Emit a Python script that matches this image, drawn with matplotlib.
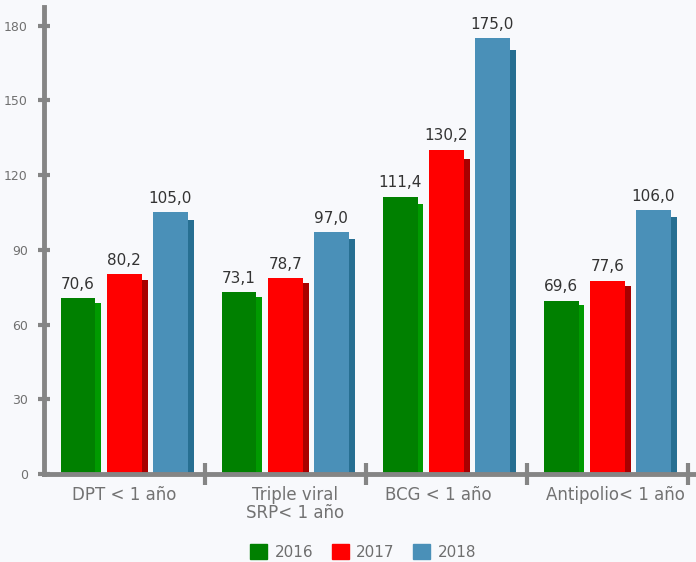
import matplotlib.pyplot as plt
import numpy as np
from matplotlib.patches import Patch

BG = "#f8f9fc"
AXIS = "#858585"
plt.rcParams["font.family"] = "DejaVu Sans"

categories = ["DPT < 1 año", "Triple viral\nSRP< 1 año", "BCG < 1 año", "Antipolio< 1 año"]
years = ["2016", "2017", "2018"]
v2016 = [70.6, 73.1, 111.4, 69.6]
v2017 = [80.2, 78.7, 130.2, 77.6]
v2018 = [105.0, 97.0, 175.0, 106.0]
yticks = [0, 30, 60, 90, 120, 150, 180]

front = ["#008000", "#ff0000", "#4a90b8"]
side = ["#009a00", "#a80000", "#276f92"]

fig = plt.figure(figsize=(6.96, 5.62), dpi=100, facecolor=BG)
ax = fig.add_axes([0.063, 0.1566, 0.937, 0.831], facecolor=BG)

x = np.arange(len(categories))
w = 0.217
sw = 0.037
offsets = [-0.288, 0.0, 0.285]

for k, vals in enumerate([v2016, v2017, v2018]):
    vals = np.array(vals)
    xc = x + offsets[k]
    # darker side strip for the 3d look
    ax.bar(xc + w / 2 + sw / 2, vals * 0.972, width=sw, color=side[k], zorder=2)
    ax.bar(xc, vals, width=w, color=front[k], zorder=3, label=years[k])
    for xi, v in zip(xc, vals):
        ax.text(xi, v + 2.5, f"{v:.1f}".replace(".", ","), ha="center", va="bottom",
                fontsize=11, color="#333333")

ax.set_xlim(-0.5, 3.55)
ax.set_ylim(0, 187.5)

for s in ["top", "right"]:
    ax.spines[s].set_visible(False)
for s in ["left", "bottom"]:
    ax.spines[s].set_color(AXIS)
    ax.spines[s].set_linewidth(3.5)
    ax.spines[s].set_zorder(4)

ax.set_yticks(yticks)
ax.set_yticklabels([str(t) for t in yticks], fontsize=9, color="#707070")
ax.tick_params(axis="y", direction="inout", length=9, width=3, color=AXIS, pad=7)

ax.set_xticks([0.5, 1.5, 2.5, 3.5])
ax.set_xticklabels([])
ax.tick_params(axis="x", direction="inout", length=16, width=3, color=AXIS)

label_x = [0.0, 1.06, 1.95, 3.05]
for lx, c in zip(label_x, categories):
    ax.text(lx, -5, c, ha="center", va="top", fontsize=12, color="#727272",
            linespacing=0.95)

handles = [Patch(color=front[k], label=years[k]) for k in range(3)]
fig.legend(handles=handles, loc="center", bbox_to_anchor=(0.522, 0.018), ncol=3,
           frameon=False, fontsize=11, labelcolor="#6e6e6e", handlelength=1.1,
           handleheight=1.1, handletextpad=0.5, columnspacing=1.2)

fig.savefig("out.png", dpi=100, facecolor=BG)
